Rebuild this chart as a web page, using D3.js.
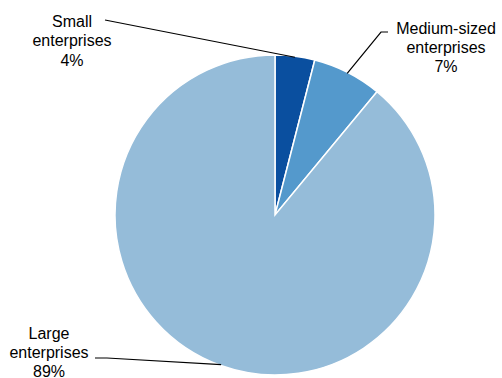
<!DOCTYPE html>
<html>
<head>
<meta charset="utf-8">
<script src="https://cdn.jsdelivr.net/npm/d3@7"></script>
<style>
  html, body { margin: 0; padding: 0; background: #fff; }
  svg text { font-family: "Liberation Sans", Arial, sans-serif; font-size: 16px; fill: #000; }
</style>
</head>
<body>
<svg id="chart" width="502" height="378"></svg>
<script>
// Share of enterprises by size class
const categories = ["Small enterprises", "Medium-sized enterprises", "Large enterprises"];
const labelLines = [["Small", "enterprises"], ["Medium-sized", "enterprises"], ["Large", "enterprises"]];
const values = [4, 7, 89];
const colors = ["#0a4f9f", "#5499cc", "#95bcd9"];

const width = 502, height = 378;
const cx = 275, cy = 215, radius = 160;

// label block placement (text centre x, first baseline y) and leader line path
const labelPos = [
  { x: 72, y: 27, elbow: [105, 20], end: [105, 20] },
  { x: 446, y: 33.5, elbow: [381, 32], end: [388, 32] },
  { x: 49, y: 338.5, elbow: [107, 358], end: [95, 358] }
];
const lineHeight = 19.3;

const svg = d3.select("#chart");
const g = svg.append("g").attr("transform", `translate(${cx},${cy})`);

const pie = d3.pie().sort(null).value(d => d)(values);
const arc = d3.arc().innerRadius(0).outerRadius(radius);

g.selectAll("path.slice")
  .data(pie)
  .join("path")
  .attr("class", "slice")
  .attr("d", arc)
  .attr("fill", (d, i) => colors[i])
  .attr("stroke", "#fff")
  .attr("stroke-width", 1.5);

// leader lines from slice edge to label
pie.forEach((d, i) => {
  const mid = (d.startAngle + d.endAngle) / 2;
  const px = cx + Math.sin(mid) * (radius - 1);
  const py = cy - Math.cos(mid) * (radius - 1);
  const p = labelPos[i];
  svg.append("polyline")
    .attr("points", [[px, py], p.elbow, p.end].map(q => q.join(",")).join(" "))
    .attr("fill", "none")
    .attr("stroke", "#000")
    .attr("stroke-width", 1.2);
});

// labels
pie.forEach((d, i) => {
  const p = labelPos[i];
  const t = svg.append("text").attr("text-anchor", "middle");
  const lines = labelLines[i].concat([d3.format(".0f")(values[i]) + "%"]);
  lines.forEach((s, j) => {
    t.append("tspan").attr("x", p.x).attr("y", p.y + j * lineHeight).text(s);
  });
});
</script>
</body>
</html>
